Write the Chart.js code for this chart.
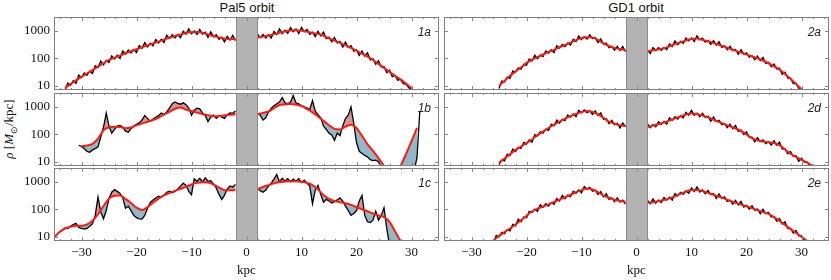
<!DOCTYPE html>
<html>
<head>
<meta charset="utf-8">
<script src="https://cdn.jsdelivr.net/npm/chart.js@4.4.0/dist/chart.umd.min.js"></script>
<style>
  html, body { margin: 0; padding: 0; background: #fff; }
  #wrap { position: relative; width: 831px; height: 280px; overflow: hidden; background: #fff; }
  canvas { position: absolute; }
  .title { position: absolute; top: 0; font: 13px "Liberation Sans", Arial, sans-serif; color: #111; transform: translateX(-50%); white-space: nowrap; line-height: 16px; }
  .tag { position: absolute; font: italic 12px "Liberation Sans", Arial, sans-serif; color: #222; transform: translate(-100%, -50%); line-height: 14px; }
  #ylab { position: absolute; left: 10px; top: 129px; font: 13px "Liberation Serif", "Times New Roman", serif; color: #111;
          transform: translate(-50%, -50%) rotate(-90deg); white-space: nowrap; }
  #ylab sub { font-size: 9px; }
</style>
</head>
<body>
<div id="wrap">
  <div class="title" style="left:247px">Pal5 orbit</div>
  <div class="title" style="left:636px">GD1 orbit</div>
  <div id="ylab"><i>ρ</i> [<i>M</i><sub>⊙</sub>/kpc]</div>
</div>
<script>
// x grids (kpc)
const kpcFine = [-35,-34.5,-34,-33.5,-33,-32.5,-32,-31.5,-31,-30.5,-30,-29.5,-29,-28.5,-28,-27.5,-27,-26.5,-26,-25.5,-25,-24.5,-24,-23.5,-23,-22.5,-22,-21.5,-21,-20.5,-20,-19.5,-19,-18.5,-18,-17.5,-17,-16.5,-16,-15.5,-15,-14.5,-14,-13.5,-13,-12.5,-12,-11.5,-11,-10.5,-10,-9.5,-9,-8.5,-8,-7.5,-7,-6.5,-6,-5.5,-5,-4.5,-4,-3.5,-3,-2.5,-2,-1.5,-1,-0.5,0,0.5,1,1.5,2,2.5,3,3.5,4,4.5,5,5.5,6,6.5,7,7.5,8,8.5,9,9.5,10,10.5,11,11.5,12,12.5,13,13.5,14,14.5,15,15.5,16,16.5,17,17.5,18,18.5,19,19.5,20,20.5,21,21.5,22,22.5,23,23.5,24,24.5,25,25.5,26,26.5,27,27.5,28,28.5,29,29.5,30,30.5,31,31.5,32,32.5,33,33.5,34,34.5,35];
const kpcCoarse = [-35,-34,-33,-32,-31,-30,-29,-28,-27,-26,-25,-24,-23,-22,-21,-20,-19,-18,-17,-16,-15,-14,-13,-12,-11,-10,-9,-8,-7,-6,-5,-4,-3,-2,-1,0,1,2,3,4,5,6,7,8,9,10,11,12,13,14,15,16,17,18,19,20,21,22,23,24,25,26,27,28,29,30,31,32,33,34,35];

const maskKpc = [-2, 2];
const yTicks = [10, 100, 1000];
const xLabelTicks = [-30, -20, -10, 0, 10, 20, 30];
const xMinorTicks = [-34,-32,-30,-28,-26,-24,-22,-20,-18,-16,-14,-12,-10,-8,-6,-4,-2,0,2,4,6,8,10,12,14,16,18,20,22,24,26,28,30,32,34];

// ---- Pal5, panel 1a
const pal5aBlackL = [6.8,12.5,10.4,15.1,12.3,24.5,20,29,24,34,28,54,46,79,58,84,71,123,95,129,98,184,143,199,155,209,163,290,231,375,260,352,285,481,366,494,374,690,534,724,549,734,563,981,765,1188,784,991,748,1128,766,889,578,920,614,731,489,582,399,641,461,691,441];
const pal5aBlackR = [765,566,740,549,717,544,949,740,1174,794,1050,810,1309,932,1173,798,1330,918,1120,757,902,618,970,659,912,524,591,402,572,363,407,255,392,253,288,182,202,128,185,120,159,88,96,61,81,48,50,30,37,21.6,24,16,17,12,11.4,8.5,7.5];
const pal5aModelL = [8.3,11.5,15.8,21,28,37,50,66,87,105,126,151,182,214,251,295,347,407,479,562,646,741,832,891,912,851,741,646,575,525,501,501];
const pal5aModelR = [575,617,676,759,851,955,1023,1047,1000,933,851,776,661,537,447,363,295,240,191,148,115,87,63,45,32,23,17,12,8.3];

// ---- Pal5, panel 1b
const pal5bBlackL = [40,36,30,24,22,27,30,35,80,180,600,200,110,150,200,210,180,130,120,160,200,230,260,330,480,380,300,360,420,480,600,520,650,900,1300,1500,1350,1250,1400,1200,900,500,750,900,850,600,480,290,420,500,380,480,420,380,520,600,580,700];
const pal5bBlackR = [560,500,330,400,650,900,1100,1300,1500,2200,1400,1300,1500,2600,1400,1300,1100,1000,900,800,1700,700,520,400,200,150,110,95,60,110,90,200,380,500,1000,250,50,24,20,17,15,12,11,11.5,10,6,4,4,4,4,4,4,4,4,4,4,4,5,14,650];
const pal5bModelL = [37,39,45,70,141,180,190,186,166,178,214,245,288,331,400,525,660,850,955,794,708,617,550,500,457,457,490,513,537];
const pal5bModelR = [537,600,676,890,1175,1230,1259,1200,1072,832,630,447,309,214,158,151,190,224,170,89,43,25,13.5,7,3.5,3.5,7,19,56,170];

// ---- Pal5, panel 1c
const pal5cBlackL = [8.5,12,15,17,21,20,24,28,31,22,20,19,20,24,30,60,280,80,45,90,250,420,520,450,380,260,110,130,90,60,50,45,44,60,110,180,220,260,300,280,330,420,460,400,450,550,700,900,750,450,340,1300,1050,1350,1000,1400,1050,1100,850,600,350,230,330,550,700,650,800];
const pal5cBlackR = [560,480,420,500,700,900,1250,1850,1000,1350,1050,1300,1000,1250,1050,1300,950,1150,900,700,160,500,750,350,180,230,200,170,190,220,260,200,130,90,60,70,90,200,320,60,35,33,40,85,40,60,115,20,5,4,4,4,4,4];
const pal5cModelL = [9.3,15,20,23,25,25,28,38,66,132,245,315,316,240,170,115,95,120,175,245,320,390,470,560,660,800,920,970,950,800,620,500,490,500];
const pal5cModelR = [537,650,760,880,980,1023,1047,1047,1000,910,760,530,330,240,200,182,166,145,120,100,85,70,60,52,35,16,7,3];

// ---- GD1, panel 2a
const gd1aBlackL = [8,14.9,13.8,20.5,18.4,34.7,31,45,40,59,56,94,80,129,97,132,115,184,156,205,163,285,236,320,269,356,305,494,411,651,484,616,501,710,529,571,374,508,326,360,245,273,197,272,193,269,176];
const gd1aBlackR = [200,150,246,192,246,195,246,208,330,272,430,312,410,350,545,435,551,410,662,466,538,385,438,319,436,302,402,251,284,207,273,190,210,141,204,141,159,110,123,89,120,82,108,65,71,49,62,41,43,26,31,19,19,12,12.3,7.9,7];
const gd1aModelL = [10,15,23,33,46,68,89,110,135,170,204,251,309,372,457,550,589,575,468,347,282,240,214,200];
const gd1aModelR = [182,195,214,234,275,331,380,447,501,525,468,417,363,309,263,224,191,162,138,117,100,83,66,51,39,27,18,11.7,7.4];

// ---- GD1, panel 2d
const gd1dBlackL = [7.9,11.6,10.8,18.8,16.7,29,23.8,33.5,30.6,51,44,62,52,98,87,124,110,153,139,234,202,330,253,353,316,503,420,551,440,751,607,777,616,710,530,707,483,601,350,366,245,325,225,252,171,261,188];
const gd1dBlackR = [242,173,226,188,285,231,296,234,398,326,437,358,469,397,630,495,748,495,594,436,584,411,459,301,427,290,324,224,246,175,234,160,211,128,143,98,122,78,79,53,76,54,63,46,54,40,58,40,52,29,30,19.6,23.8,15.6,16.5,10.4,13.5,9.8,9.8,7.1];
const gd1dModelL = [9.1,13.2,18.6,27,36,48,65,93,126,170,224,288,372,457,550,646,708,646,537,398,288,245,214,200];
const gd1dModelR = [186,209,234,269,316,380,447,525,575,550,479,417,339,282,234,195,162,132,100,72,60,55,51,48,40,28,19.5,15,11.7,9.3,7.2];

// ---- GD1, panel 2e
const gd1eBlackL = [6.1,11.2,9.9,14.4,12.9,18.1,16.4,28.4,25.2,43.6,35,52,49,84,76,102,84,145,118,159,131,176,153,245,202,322,242,329,288,459,384,503,401,677,541,631,457,497,350,440,284,374,231,262,190,259,184,215,153];
const gd1eBlackR = [209,160,237,168,216,178,267,215,276,218,372,307,417,351,469,388,601,451,651,426,505,367,486,338,373,250,363,250,282,195,214,154,209,144,192,121,139,101,134,93,102,69,100,69,78,52,55,37,46,29,35,20,20.5,13.6,16.8,10.8,11,6.7,7.1];
const gd1eModelL = [7.6,10.5,14.8,20,28,40,58,83,105,126,151,186,224,275,339,417,501,575,525,427,316,263,224,200,191];
const gd1eModelR = [174,182,200,219,251,295,363,447,501,501,468,398,339,288,245,204,174,148,129,110,93,79,68,52,38,27,19,13.8,10,7.1];

const panels = [
  { tag: '1a', col: 0, row: 0, black: [[-33, pal5aBlackL], [2, pal5aBlackR]], model: [[-33, pal5aModelL], [2, pal5aModelR]] },
  { tag: '1b', col: 0, row: 1, black: [[-30.5, pal5bBlackL], [2, pal5bBlackR]], model: [[-30, pal5bModelL], [2, pal5bModelR]] },
  { tag: '1c', col: 0, row: 2, black: [[-35, pal5cBlackL], [2, pal5cBlackR]], model: [[-35, pal5cModelL], [2, pal5cModelR]] },
  { tag: '2a', col: 1, row: 0, black: [[-25, gd1aBlackL], [2, gd1aBlackR]], model: [[-25, gd1aModelL], [2, gd1aModelR]] },
  { tag: '2d', col: 1, row: 1, black: [[-25, gd1dBlackL], [2, gd1dBlackR]], model: [[-25, gd1dModelL], [2, gd1dModelR]] },
  { tag: '2e', col: 1, row: 2, black: [[-26, gd1eBlackL], [2, gd1eBlackR]], model: [[-26, gd1eModelL], [2, gd1eModelR]] },
];

// put segment values on their kpc grid, with a null between the two sides of the mask
function onGrid(grid, segments) {
  const pts = [];
  segments.forEach(([start, values]) => {
    const i0 = grid.indexOf(start);
    if (pts.length) pts.push({ x: grid[i0 - 1], y: null });
    values.forEach((v, i) => pts.push({ x: grid[i0 + i], y: v }));
  });
  return pts;
}

// masked band, frame and inward tick marks
const panelDecor = {
  id: 'panelDecor',
  afterDatasetsDraw(chart) {
    const { ctx, chartArea: a, scales: { x, y } } = chart;
    ctx.save();
    const x0 = Math.round(x.getPixelForValue(maskKpc[0]));
    const x1 = Math.round(x.getPixelForValue(maskKpc[1]));
    ctx.fillStyle = '#b3b3b3';
    ctx.fillRect(x0, a.top, x1 - x0, a.bottom - a.top);
    ctx.strokeStyle = '#8c8c8c';
    ctx.lineWidth = 1;
    ctx.beginPath();
    ctx.moveTo(x0 + 0.5, a.top); ctx.lineTo(x0 + 0.5, a.bottom);
    ctx.moveTo(x1 - 0.5, a.top); ctx.lineTo(x1 - 0.5, a.bottom);
    ctx.stroke();

    ctx.strokeStyle = '#888';
    ctx.beginPath();
    xMinorTicks.forEach(v => {
      const px = Math.round(x.getPixelForValue(v)) + 0.5;
      const len = v % 10 === 0 ? 4 : 2;
      ctx.moveTo(px, a.top); ctx.lineTo(px, a.top + len);
      ctx.moveTo(px, a.bottom); ctx.lineTo(px, a.bottom - len);
    });
    yTicks.forEach(v => {
      const py = Math.round(y.getPixelForValue(v)) + 0.5;
      ctx.moveTo(a.left, py); ctx.lineTo(a.left + 4, py);
      ctx.moveTo(a.right, py); ctx.lineTo(a.right - 4, py);
    });
    ctx.stroke();

    ctx.strokeStyle = '#808080';
    ctx.strokeRect(a.left + 0.5, a.top + 0.5, a.right - a.left - 1, a.bottom - a.top - 1);
    ctx.restore();
  }
};

const serif = '"Liberation Serif", "Times New Roman", serif';
const rowTop = [17, 93, 168];
const wrap = document.getElementById('wrap');

panels.forEach(p => {
  const bottomRow = p.row === 2;
  const leftCol = p.col === 0;
  const canvas = document.createElement('canvas');
  canvas.width = leftCol ? 441 : 390;
  canvas.height = bottomRow ? 119 : 85;
  canvas.style.left = (leftCol ? 0 : 441) + 'px';
  canvas.style.top = (rowTop[p.row] - 7) + 'px';
  wrap.appendChild(canvas);

  new Chart(canvas, {
    type: 'line',
    data: {
      datasets: [
        {
          label: 'model',
          data: onGrid(kpcCoarse, p.model),
          borderColor: '#ff1a10',
          borderWidth: 2,
          pointRadius: 0,
          cubicInterpolationMode: 'monotone',
          fill: false,
        },
        {
          label: 'stream',
          data: onGrid(kpcFine, p.black),
          borderColor: '#000',
          borderWidth: 1.3,
          pointRadius: 0,
          tension: 0,
          fill: { target: 0, above: 'rgb(206,152,152)', below: 'rgb(146,184,200)' },
        },
      ],
    },
    options: {
      responsive: false,
      animation: false,
      events: [],
      layout: { padding: { top: 7, bottom: bottomRow ? 0 : 5, left: leftCol ? 0 : 3, right: 2 } },
      plugins: { legend: { display: false }, tooltip: { enabled: false } },
      scales: {
        x: {
          type: 'linear', min: -35, max: 35,
          display: bottomRow,
          grid: { display: false, drawTicks: false },
          border: { display: false },
          afterBuildTicks: s => { s.ticks = xLabelTicks.map(v => ({ value: v })); },
          afterFit: s => { if (bottomRow) { s.height = 39; s.paddingLeft = 0; s.paddingRight = 0; } },
          ticks: {
            padding: 4, maxRotation: 0, autoSkip: false, color: '#111',
            font: { family: serif, size: 13 },
            callback: v => (v < 0 ? '\u2212' + Math.abs(v) : String(v)),
          },
          title: { display: true, text: 'kpc', color: '#111', font: { family: serif, size: 13 }, padding: { top: 0, bottom: 2 } },
        },
        y: {
          type: 'logarithmic', min: 7, max: 3200,
          display: leftCol,
          grid: { display: false, drawTicks: false },
          border: { display: false },
          afterBuildTicks: s => { s.ticks = yTicks.map(v => ({ value: v })); },
          afterFit: s => { if (leftCol) { s.width = 54; s.paddingTop = 0; s.paddingBottom = 0; } },
          ticks: { padding: 4, color: '#111', font: { family: serif, size: 13 }, callback: v => String(v) },
        },
      },
    },
    plugins: [panelDecor],
  });

  const tag = document.createElement('div');
  tag.className = 'tag';
  tag.textContent = p.tag;
  tag.style.left = (leftCol ? 431 : 821) + 'px';
  tag.style.top = (rowTop[p.row] + 15) + 'px';
  wrap.appendChild(tag);
});
</script>
</body>
</html>
